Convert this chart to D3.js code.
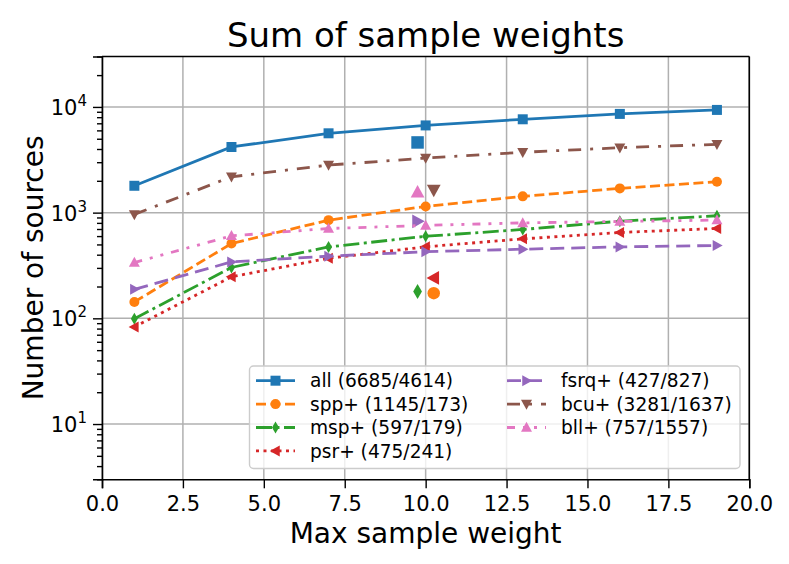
<!DOCTYPE html>
<html>
<head>
<meta charset="utf-8">
<script src="https://d3js.org/d3.v7.min.js"></script>
<style>
  body { margin: 0; background: white; }
  text { font-family: "DejaVu Sans", sans-serif; fill: black; }
</style>
</head>
<body>
<script>
    var svgWidth = 789;
    var svgHeight = 564;

    // data
    var weights = [1, 4, 7, 10, 13, 16, 19];
    var allVals  = [1795, 4180, 5630, 6685, 7640, 8590, 9370];
    var sppVals  = [143, 510, 849, 1145, 1425, 1696, 1959];
    var mspVals  = [99, 303, 474, 597, 693, 830, 934];
    var psrVals  = [83, 247, 370, 475, 565, 649, 708];
    var fsrqVals = [188, 342, 387, 427, 451, 474, 489];
    var bcuVals  = [962, 2183, 2818, 3281, 3724, 4113, 4426];
    var bllVals  = [337, 603, 708, 757, 800, 825, 850];

    // second count at weight 10 (shifted a bit left / right)
    var altX = [9.75, 10.25, 9.75, 10.25, 9.75, 10.25, 9.75];
    var altVals = [4614, 173, 179, 241, 827, 1637, 1557];

    var names = ["all", "spp+", "msp+", "psr+", "fsrq+", "bcu+", "bll+"];
    var xTicks = [0, 2.5, 5, 7.5, 10, 12.5, 15, 17.5, 20];
    var yTicks = [10, 100, 1000, 10000];

    var colors = ["#1f77b4", "#ff7f0e", "#2ca02c", "#d62728", "#9467bd", "#8c564b", "#e377c2"];
    var dashes = ["none", "10,4.5", "16,4.5,3,4.5", "3,4.5", "14,7", "13,9,3,9", "8,8,3,8,3,8"];
    var markers = ["square", "circle", "thin_diamond", "tri_left", "tri_right", "tri_down", "tri_up"];

    var series = [allVals, sppVals, mspVals, psrVals, fsrqVals, bcuVals, bllVals].map(function(v, i) {
        return {name: names[i], values: v, color: colors[i], dash: dashes[i], marker: markers[i],
                ax: altX[i], av: altVals[i]};
    });

    var pLeft = 102, pRight = 749.3, pTop = 56.5, pBottom = 479.3;

    var svg = d3.select("body")
        .append("svg")
        .attr("width", svgWidth)
        .attr("height", svgHeight);

    var x = d3.scaleLinear().domain([0, 20]).range([pLeft, pRight]);
    var y = d3.scaleLog().domain([3, 30000]).range([pBottom, pTop]);

    // marker shapes, s = full size in px
    function markerPath(type, s) {
        var h = s / 2;
        switch (type) {
            case "square": return "M" + (-h) + "," + (-h) + "h" + s + "v" + s + "h" + (-s) + "Z";
            case "circle": return d3.symbol(d3.symbolCircle, Math.PI * h * h)();
            case "thin_diamond": return "M0," + (-h * 1.2) + "L" + (h * 0.7) + ",0L0," + (h * 1.2) + "L" + (-h * 0.7) + ",0Z";
            case "tri_up": return "M0," + (-h * 1.15) + "L" + (h * 1.1) + "," + (h * 0.85) + "L" + (-h * 1.1) + "," + (h * 0.85) + "Z";
            case "tri_down": return "M0," + (h * 1.15) + "L" + (h * 1.1) + "," + (-h * 0.85) + "L" + (-h * 1.1) + "," + (-h * 0.85) + "Z";
            case "tri_left": return "M" + (-h * 1.15) + ",0L" + (h * 0.85) + "," + (-h * 1.1) + "L" + (h * 0.85) + "," + (h * 1.1) + "Z";
            case "tri_right": return "M" + (h * 1.15) + ",0L" + (-h * 0.85) + "," + (-h * 1.1) + "L" + (-h * 0.85) + "," + (h * 1.1) + "Z";
        }
    }

    // grid
    var grid = svg.append("g").attr("stroke", "#b0b0b0").attr("stroke-width", 1.5);
    grid.selectAll(".gx").data(xTicks).enter().append("line")
        .attr("x1", function(d) { return x(d); }).attr("x2", function(d) { return x(d); })
        .attr("y1", pTop).attr("y2", pBottom);
    grid.selectAll(".gy").data(yTicks).enter().append("line")
        .attr("x1", pLeft).attr("x2", pRight)
        .attr("y1", function(d) { return y(d); }).attr("y2", function(d) { return y(d); });

    var plot = svg.append("g");

    var line = d3.line()
        .x(function(d, i) { return x(weights[i]); })
        .y(function(d) { return y(d); });

    series.forEach(function(s) {
        plot.append("path")
            .attr("d", line(s.values))
            .attr("fill", "none")
            .attr("stroke", s.color)
            .attr("stroke-width", 2.8)
            .attr("stroke-dasharray", s.dash);
        plot.selectAll(null).data(s.values).enter().append("path")
            .attr("d", markerPath(s.marker, 10))
            .attr("transform", function(d, i) { return "translate(" + x(weights[i]) + "," + y(d) + ")"; })
            .attr("fill", s.color);
        plot.append("path")
            .attr("d", markerPath(s.marker, 12.5))
            .attr("transform", "translate(" + x(s.ax) + "," + y(s.av) + ")")
            .attr("fill", s.color);
    });

    // axes
    var xAxis = svg.append("g")
        .attr("transform", "translate(0," + pBottom + ")")
        .call(d3.axisBottom(x).tickValues(xTicks).tickSize(9).tickPadding(7)
            .tickFormat(d3.format(".1f")));
    xAxis.selectAll("text").attr("font-size", 21).attr("font-family", "DejaVu Sans").attr("dy", "0.75em");

    var minors = [];
    [1, 10, 100, 1000, 10000].forEach(function(dec) {
        for (var k = 2; k <= 9; k++) {
            var v = dec * k;
            if (v >= 3 && v <= 30000) minors.push(v);
        }
    });
    svg.append("g")
        .attr("transform", "translate(" + pLeft + ",0)")
        .call(d3.axisLeft(y).tickValues(minors).tickSize(5).tickFormat(""))
        .call(function(g) { g.select(".domain").remove(); });

    var yAxis = svg.append("g")
        .attr("transform", "translate(" + pLeft + ",0)")
        .call(d3.axisLeft(y).tickValues(yTicks).tickSize(9).tickPadding(5).tickFormat(""));
    yAxis.selectAll(".tick").append("text")
        .attr("x", -15).attr("dy", "0.36em")
        .attr("text-anchor", "end")
        .attr("font-size", 21)
        .each(function(d) {
            var t = d3.select(this);
            t.append("tspan").text("10");
            t.append("tspan").attr("font-size", 15).attr("dy", "-0.6em").text(Math.round(Math.log10(d)));
        });

    svg.selectAll(".domain").attr("stroke", "black").attr("stroke-width", 1.6);
    svg.selectAll(".tick line").attr("stroke", "black").attr("stroke-width", 1.4);

    // top and right spines
    svg.append("line").attr("x1", pLeft).attr("x2", pRight).attr("y1", pTop).attr("y2", pTop)
        .attr("stroke", "black").attr("stroke-width", 1.6);
    svg.append("line").attr("x1", pRight).attr("x2", pRight).attr("y1", pTop).attr("y2", pBottom)
        .attr("stroke", "black").attr("stroke-width", 1.6);

    // titles
    svg.append("text").attr("x", (pLeft + pRight) / 2).attr("y", 47)
        .attr("text-anchor", "middle").attr("font-size", 34).text("Sum of sample weights");
    svg.append("text").attr("x", (pLeft + pRight) / 2).attr("y", 543)
        .attr("text-anchor", "middle").attr("font-size", 28).text("Max sample weight");
    svg.append("text")
        .attr("transform", "translate(43," + ((pTop + pBottom) / 2) + ") rotate(-90)")
        .attr("text-anchor", "middle").attr("font-size", 28).text("Number of sources");

    // legend
    var legend = svg.append("g");
    legend.append("rect")
        .attr("x", 249.5).attr("y", 366).attr("width", 490.5).attr("height", 102.5)
        .attr("rx", 4).attr("fill", "white").attr("fill-opacity", 0.8)
        .attr("stroke", "#cccccc").attr("stroke-width", 1.4);

    series.forEach(function(s, i) {
        var col = i < 4 ? 0 : 1;
        var row = i < 4 ? i : i - 4;
        var hx = col === 0 ? 256 : 507;
        var cy = 380.7 + row * 23.4;
        var g = legend.append("g");
        g.append("line").attr("x1", hx).attr("x2", hx + 39).attr("y1", cy).attr("y2", cy)
            .attr("stroke", s.color).attr("stroke-width", 2.8).attr("stroke-dasharray", s.dash);
        g.append("path").attr("d", markerPath(s.marker, 10))
            .attr("transform", "translate(" + (hx + 19.5) + "," + cy + ")")
            .attr("fill", s.color);
        g.append("text").attr("x", hx + 54).attr("y", cy).attr("dy", "0.36em")
            .attr("font-size", 18.6)
            .text(s.name + " (" + s.values[3] + "/" + s.av + ")");
    });
</script>
</body>
</html>
